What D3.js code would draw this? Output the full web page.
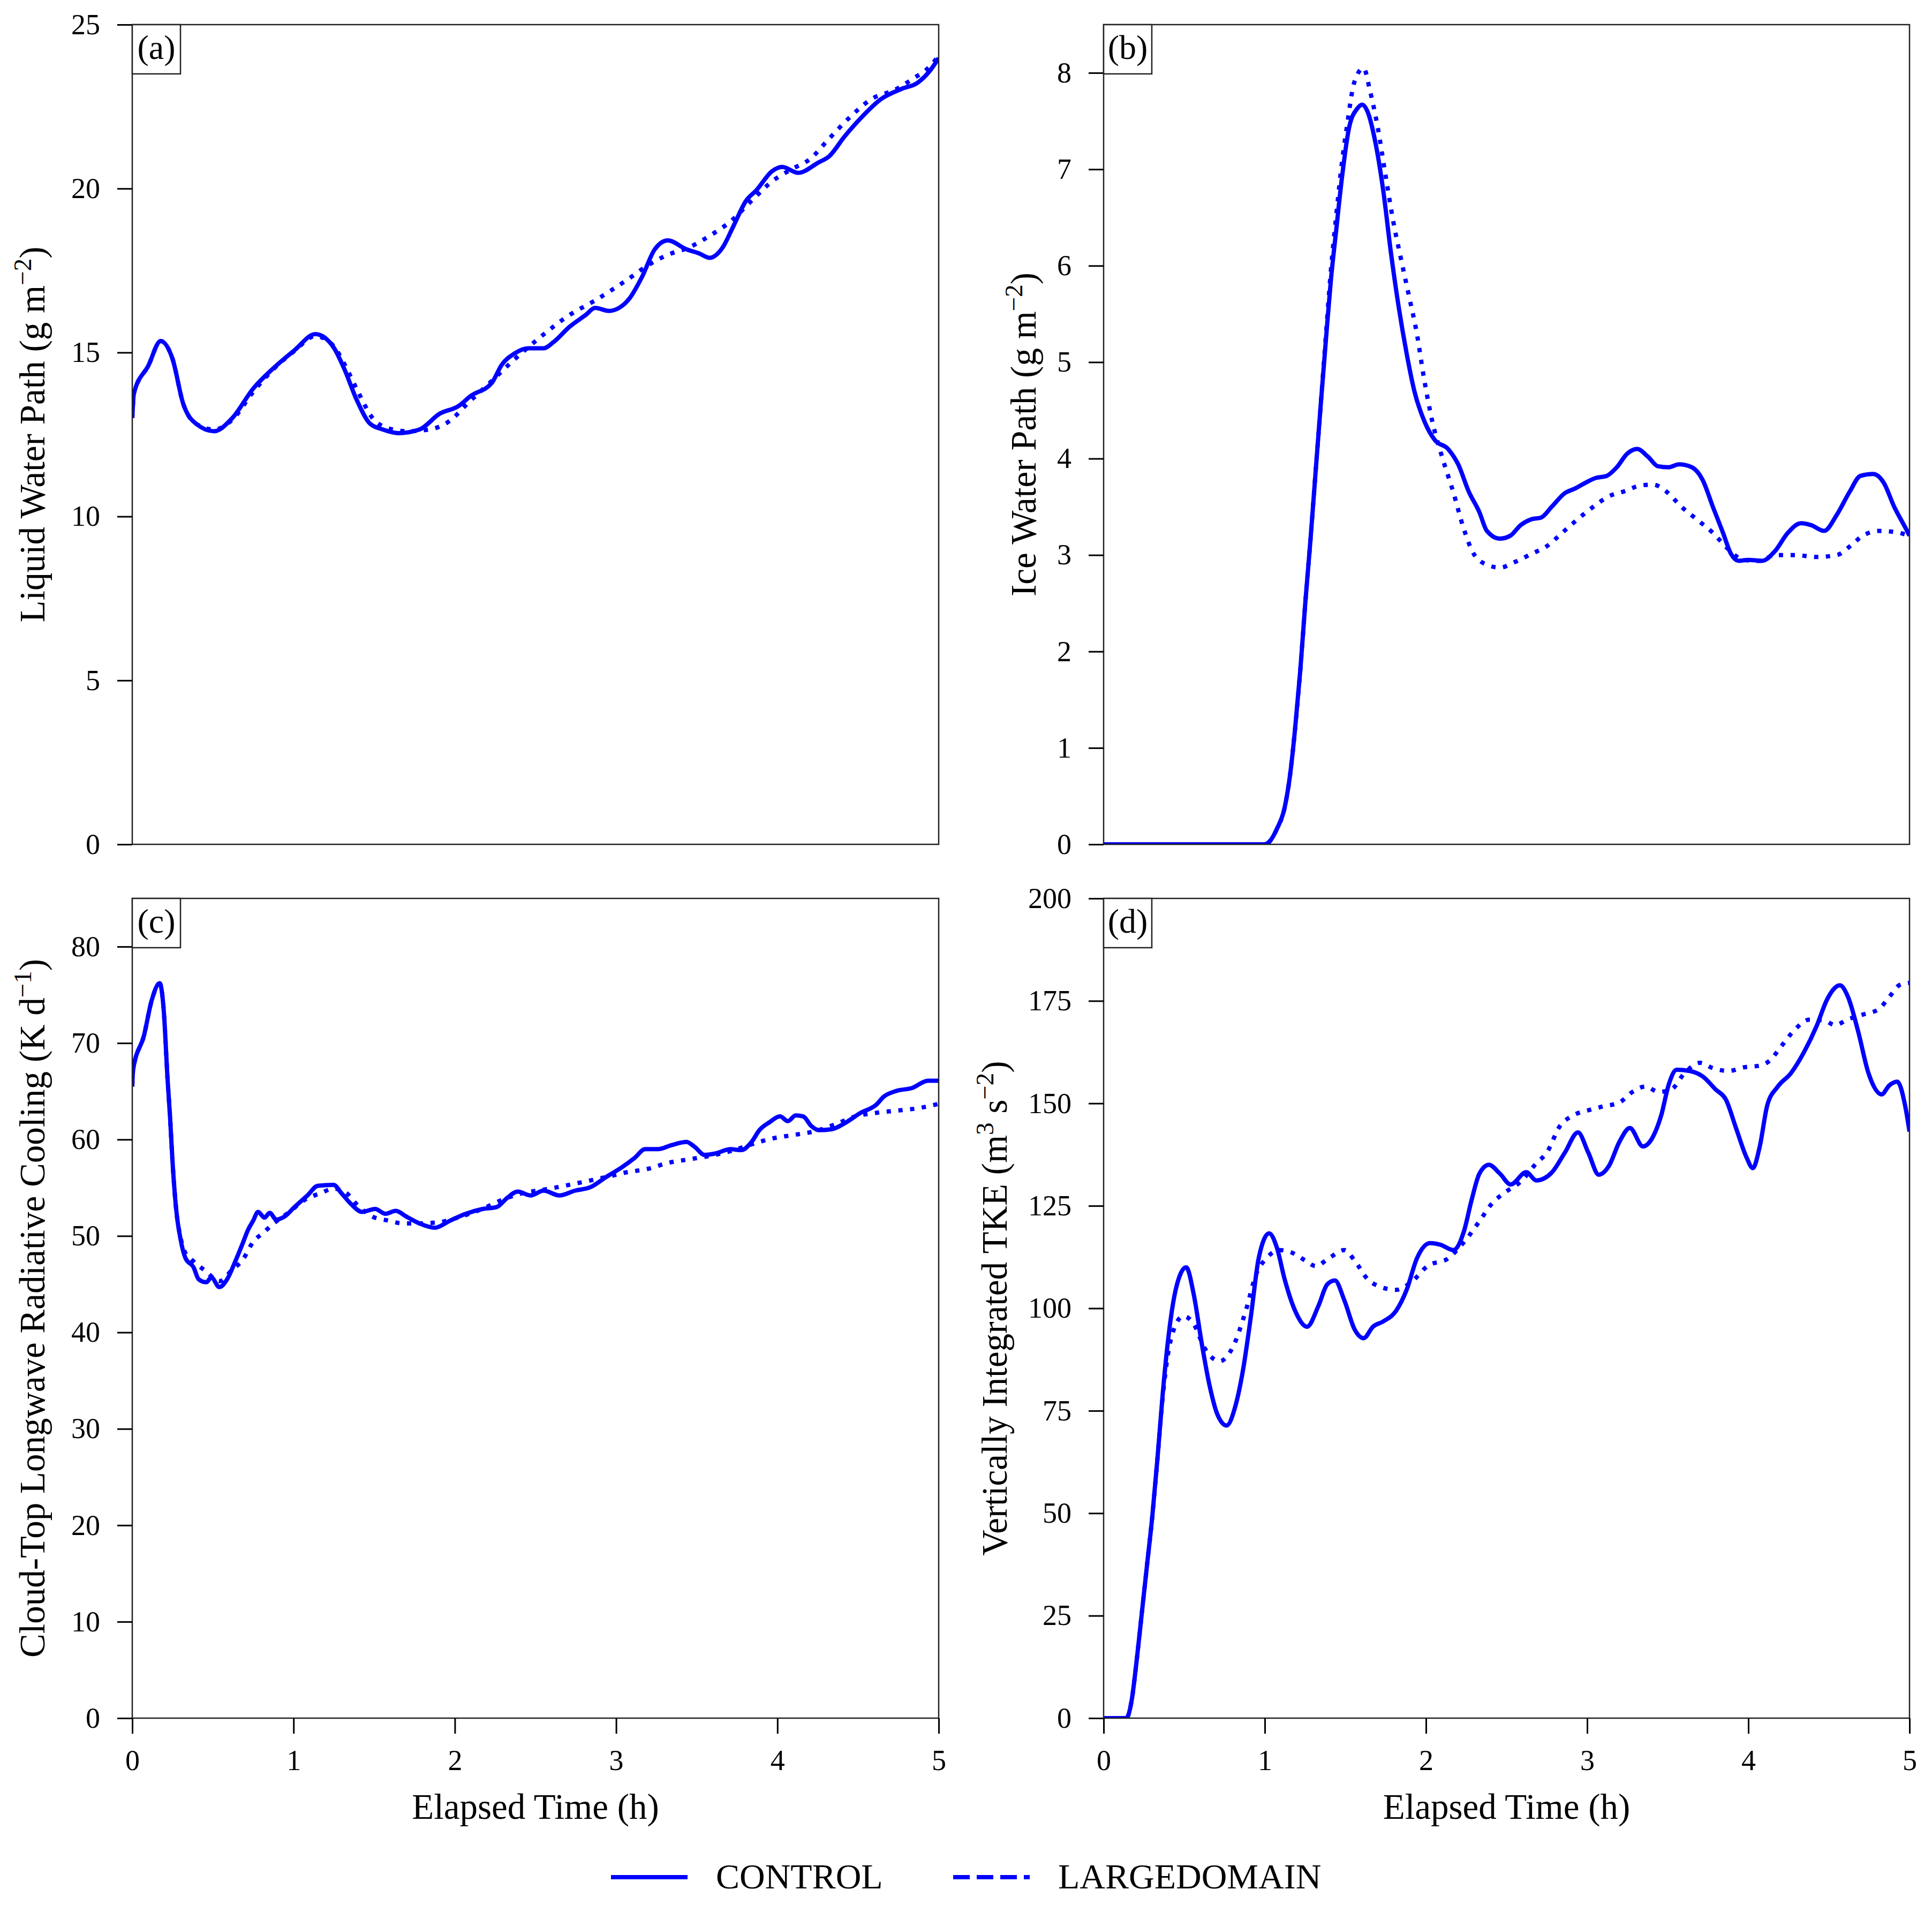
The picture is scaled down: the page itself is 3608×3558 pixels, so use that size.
<!DOCTYPE html>
<html>
<head>
<meta charset="utf-8">
<script src="https://d3js.org/d3.v7.min.js"></script>
<style>
  body { margin: 0; background: #fff; }
  text { font-family: "Liberation Serif", "DejaVu Serif", serif; fill: #000; }
</style>
</head>
<body>
<svg id="chart" width="3608" height="3558"></svg>
<script>
/*************************************/
/*   Data        */
/*************************************/
const seriesNames = ["CONTROL", "LARGEDOMAIN"];
const xTicks = [0, 1, 2, 3, 4, 5];

// (a) Liquid water path
const lwpCtrlT = [0, 0.01, 0.1, 0.176, 0.25, 0.315, 0.395, 0.508, 0.62, 0.75, 0.877, 1.006, 1.135, 1.248, 1.312, 1.393, 1.474, 1.554, 1.65, 1.78, 1.908, 2.02, 2.1, 2.23, 2.29, 2.37, 2.455, 2.55, 2.615, 2.71, 2.81, 2.87, 2.955, 3.018, 3.08, 3.16, 3.24, 3.32, 3.435, 3.516, 3.58, 3.66, 3.725, 3.806, 3.87, 3.967, 4.03, 4.128, 4.256, 4.32, 4.418, 4.515, 4.643, 4.77, 4.867, 4.95, 5.0];
const lwpCtrl = [13.0, 13.75, 14.6, 15.35, 14.8, 13.45, 12.83, 12.6, 13.0, 13.9, 14.53, 15.07, 15.56, 15.16, 14.53, 13.54, 12.83, 12.65, 12.54, 12.65, 13.14, 13.36, 13.68, 14.08, 14.62, 14.97, 15.13, 15.13, 15.33, 15.78, 16.14, 16.36, 16.27, 16.36, 16.63, 17.3, 18.15, 18.42, 18.15, 18.02, 17.89, 18.2, 18.83, 19.63, 19.95, 20.53, 20.66, 20.48, 20.8, 20.98, 21.6, 22.14, 22.73, 23.04, 23.22, 23.62, 23.98];
const lwpLargeT = [0, 0.01, 0.1, 0.176, 0.25, 0.315, 0.395, 0.508, 0.62, 0.75, 0.877, 1.006, 1.135, 1.248, 1.32, 1.4, 1.49, 1.58, 1.7, 1.84, 1.97, 2.08, 2.2, 2.35, 2.52, 2.71, 2.87, 3.066, 3.2, 3.32, 3.45, 3.58, 3.71, 3.84, 3.967, 4.1, 4.2, 4.32, 4.45, 4.58, 4.74, 4.84, 4.94, 5.0];
const lwpLarge = [13.0, 13.75, 14.6, 15.35, 14.8, 13.45, 12.83, 12.65, 12.95, 13.8, 14.5, 15.05, 15.5, 15.2, 14.6, 13.8, 13.0, 12.7, 12.6, 12.65, 12.92, 13.45, 14.0, 14.7, 15.43, 16.14, 16.59, 17.21, 17.67, 17.98, 18.2, 18.56, 19.0, 19.63, 20.22, 20.62, 20.89, 21.52, 22.18, 22.72, 23.04, 23.35, 23.7, 24.05];

// (b) Ice water path
const iwpCtrlT = [0, 0.5, 0.995, 1.03, 1.075, 1.123, 1.156, 1.188, 1.22, 1.252, 1.284, 1.316, 1.349, 1.38, 1.41, 1.445, 1.477, 1.524, 1.574, 1.605, 1.637, 1.686, 1.734, 1.783, 1.83, 1.88, 1.928, 1.992, 2.056, 2.137, 2.2, 2.265, 2.33, 2.378, 2.458, 2.523, 2.587, 2.652, 2.716, 2.78, 2.86, 2.925, 2.99, 3.055, 3.12, 3.184, 3.248, 3.31, 3.377, 3.44, 3.505, 3.57, 3.65, 3.716, 3.78, 3.843, 3.893, 3.94, 4.0, 4.085, 4.165, 4.245, 4.327, 4.39, 4.47, 4.55, 4.63, 4.695, 4.775, 4.84, 4.905, 4.985, 5.0];
const iwpCtrl = [0, 0, 0, 0.03, 0.16, 0.38, 0.71, 1.2, 1.8, 2.52, 3.17, 3.88, 4.6, 5.25, 5.85, 6.4, 6.89, 7.44, 7.63, 7.67, 7.6, 7.28, 6.79, 6.13, 5.58, 5.09, 4.7, 4.38, 4.19, 4.1, 3.94, 3.66, 3.45, 3.25, 3.17, 3.2, 3.31, 3.37, 3.39, 3.5, 3.64, 3.69, 3.75, 3.8, 3.82, 3.91, 4.05, 4.1, 4.02, 3.92, 3.91, 3.94, 3.91, 3.78, 3.5, 3.23, 3.01, 2.94, 2.95, 2.94, 3.04, 3.23, 3.33, 3.31, 3.25, 3.42, 3.66, 3.82, 3.84, 3.75, 3.5, 3.25, 3.2];
const iwpLargeT = [0, 0.5, 0.995, 1.03, 1.075, 1.123, 1.156, 1.188, 1.22, 1.252, 1.284, 1.316, 1.349, 1.38, 1.41, 1.445, 1.477, 1.51, 1.555, 1.613, 1.652, 1.7, 1.748, 1.797, 1.845, 1.894, 1.942, 1.99, 2.04, 2.105, 2.168, 2.233, 2.297, 2.378, 2.458, 2.555, 2.652, 2.748, 2.845, 2.94, 3.038, 3.135, 3.23, 3.329, 3.408, 3.49, 3.585, 3.68, 3.78, 3.876, 3.97, 4.07, 4.165, 4.29, 4.42, 4.55, 4.63, 4.71, 4.81, 4.905, 5.0];
const iwpLarge = [0, 0, 0, 0.03, 0.16, 0.38, 0.71, 1.2, 1.8, 2.52, 3.17, 3.88, 4.6, 5.3, 5.95, 6.55, 7.05, 7.45, 7.9, 8.05, 7.82, 7.44, 6.95, 6.46, 6.07, 5.69, 5.31, 4.81, 4.38, 3.99, 3.66, 3.28, 3.01, 2.9, 2.87, 2.93, 3.01, 3.09, 3.23, 3.37, 3.5, 3.61, 3.66, 3.72, 3.73, 3.66, 3.5, 3.37, 3.23, 3.06, 2.95, 2.94, 3.0, 3.0, 2.98, 3.0, 3.09, 3.2, 3.25, 3.24, 3.2];

// (c) Cloud-top longwave radiative cooling
const lwcCtrlT = [0, 0.005, 0.073, 0.12, 0.17, 0.196, 0.218, 0.234, 0.25, 0.272, 0.3, 0.33, 0.38, 0.412, 0.459, 0.49, 0.54, 0.588, 0.636, 0.684, 0.717, 0.75, 0.78, 0.82, 0.852, 0.893, 0.943, 1.006, 1.086, 1.15, 1.248, 1.296, 1.36, 1.424, 1.506, 1.57, 1.634, 1.7, 1.78, 1.876, 1.972, 2.068, 2.165, 2.26, 2.326, 2.39, 2.47, 2.55, 2.648, 2.745, 2.84, 2.937, 3.034, 3.114, 3.18, 3.26, 3.34, 3.436, 3.485, 3.549, 3.614, 3.71, 3.775, 3.84, 3.888, 3.952, 4.016, 4.065, 4.113, 4.16, 4.21, 4.257, 4.338, 4.418, 4.515, 4.612, 4.66, 4.74, 4.836, 4.933, 5.0];
const lwcCtrl = [65.5, 67.2, 70.8, 74.4, 76.2, 73.2, 66.5, 62.4, 57.6, 52.8, 49.6, 47.7, 46.75, 45.5, 45.2, 45.7, 44.7, 45.5, 47.25, 49.2, 50.6, 51.6, 52.5, 51.9, 52.4, 51.7, 52.0, 53.0, 54.2, 55.2, 55.3, 54.45, 53.25, 52.5, 52.8, 52.3, 52.6, 52.0, 51.3, 50.85, 51.6, 52.3, 52.77, 53.0, 53.97, 54.6, 54.2, 54.7, 54.2, 54.7, 55.05, 56.1, 57.1, 58.08, 59.0, 59.0, 59.4, 59.75, 59.27, 58.4, 58.55, 59.0, 58.9, 59.75, 60.97, 61.8, 62.4, 61.9, 62.5, 62.4, 61.4, 60.97, 61.07, 61.7, 62.76, 63.6, 64.45, 65.05, 65.35, 66.1, 66.1];
const lwcLargeT = [0, 0.005, 0.073, 0.12, 0.17, 0.196, 0.218, 0.234, 0.25, 0.272, 0.3, 0.33, 0.365, 0.459, 0.54, 0.62, 0.684, 0.75, 0.814, 0.877, 0.975, 1.07, 1.17, 1.248, 1.328, 1.393, 1.49, 1.586, 1.68, 1.78, 1.908, 2.036, 2.165, 2.294, 2.423, 2.55, 2.68, 2.81, 2.937, 3.066, 3.2, 3.32, 3.45, 3.58, 3.71, 3.84, 3.967, 4.1, 4.225, 4.355, 4.483, 4.612, 4.74, 4.87, 5.0];
const lwcLarge = [65.5, 67.2, 70.8, 74.4, 76.2, 73.2, 66.5, 62.4, 57.6, 52.8, 49.8, 48.2, 47.6, 46.3, 45.3, 46.5, 47.5, 49.4, 50.35, 51.3, 52.5, 53.75, 54.45, 54.9, 54.45, 53.25, 52.0, 51.6, 51.3, 51.3, 51.44, 52.0, 52.77, 53.75, 54.45, 54.8, 55.2, 55.65, 56.1, 56.6, 56.97, 57.57, 57.94, 58.3, 58.8, 59.5, 60.1, 60.47, 60.83, 61.55, 62.4, 62.76, 63.0, 63.24, 63.7];

// (d) Vertically integrated TKE
const tkeCtrlT = [0, 0.141, 0.173, 0.206, 0.238, 0.27, 0.302, 0.334, 0.366, 0.398, 0.447, 0.512, 0.56, 0.608, 0.656, 0.704, 0.763, 0.818, 0.866, 0.914, 0.962, 1.027, 1.075, 1.123, 1.188, 1.262, 1.333, 1.387, 1.435, 1.494, 1.558, 1.613, 1.671, 1.735, 1.815, 1.88, 1.944, 2.025, 2.09, 2.17, 2.235, 2.283, 2.331, 2.39, 2.46, 2.525, 2.622, 2.685, 2.78, 2.862, 2.943, 3.007, 3.072, 3.136, 3.2, 3.265, 3.346, 3.409, 3.459, 3.507, 3.555, 3.635, 3.716, 3.797, 3.861, 3.925, 3.99, 4.028, 4.07, 4.118, 4.183, 4.263, 4.344, 4.424, 4.488, 4.568, 4.618, 4.681, 4.746, 4.827, 4.875, 4.924, 4.972, 5.0];
const tkeCtrl = [0, 0, 4.1, 14.4, 26, 37.6, 49.2, 63.3, 78.8, 91.6, 104.5, 110.0, 103.2, 91.6, 81.4, 74.3, 71.4, 76.2, 85.2, 98.1, 112.2, 118.3, 114.8, 107.1, 99.4, 95.5, 100.6, 105.8, 106.8, 101.9, 94.8, 92.7, 95.5, 96.8, 99.4, 104.5, 112.2, 115.9, 115.5, 114.2, 118.7, 126.4, 132.8, 135.0, 132.8, 130.2, 133.2, 131.2, 133.1, 138.0, 142.9, 138.0, 132.6, 134.8, 140.6, 144.0, 139.5, 141.9, 147.0, 154.7, 158.2, 157.9, 156.6, 153.4, 150.9, 143.8, 136.7, 134.2, 139.3, 149.6, 154.1, 157.3, 162.4, 168.9, 175.3, 178.8, 176.0, 167.6, 157.3, 152.2, 154.4, 155.3, 149.6, 143.1];
const tkeLargeT = [0, 0.141, 0.173, 0.206, 0.238, 0.27, 0.302, 0.334, 0.366, 0.398, 0.43, 0.495, 0.56, 0.625, 0.72, 0.8, 0.882, 0.947, 1.01, 1.09, 1.172, 1.253, 1.316, 1.397, 1.494, 1.558, 1.638, 1.72, 1.815, 1.912, 2.009, 2.138, 2.235, 2.331, 2.412, 2.492, 2.588, 2.685, 2.75, 2.83, 2.91, 3.007, 3.103, 3.2, 3.281, 3.362, 3.443, 3.522, 3.603, 3.7, 3.78, 3.877, 3.974, 4.07, 4.135, 4.2, 4.28, 4.376, 4.472, 4.537, 4.618, 4.714, 4.81, 4.875, 4.94, 5.0];
const tkeLarge = [0, 0, 4.1, 14.4, 26, 37.6, 49.2, 63.3, 78.0, 88.5, 94.2, 98.1, 96.1, 90.4, 87.1, 90.4, 99.4, 108.4, 112.2, 114.2, 113.5, 111.6, 110.3, 112.2, 114.2, 111.6, 107.1, 105.2, 104.5, 106.5, 110.3, 112.2, 116.1, 121.2, 125.7, 128.3, 130.9, 135.4, 138.0, 144.4, 147.0, 148.3, 149.3, 150.2, 152.8, 154.1, 152.8, 153.4, 157.3, 159.9, 158.6, 157.9, 158.8, 159.2, 160.5, 163.7, 167.6, 170.4, 170.2, 169.1, 170.5, 171.7, 173.0, 176.0, 178.9, 179.4];

// y axis tick values per panel
const yTicksA = [0, 5, 10, 15, 20, 25];
const yTicksB = [0, 1, 2, 3, 4, 5, 6, 7, 8];
const yTicksC = [0, 10, 20, 30, 40, 50, 60, 70, 80];
const yTicksD = [0, 25, 50, 75, 100, 125, 150, 175, 200];

/*************************************/
/*   Layout                          */
/*************************************/
const BLUE = "#0000ff";
const tickFont = 54;
const labelFont = 67;

const panels = [
  { tag: "(a)", box: [247, 1753, 46, 1577], ymax: 25, yTicks: yTicksA, xAxis: false, labOff: 164,
    ylab: [["Liquid Water Path (g m"], ["\u22122", true], [")"]],
    series: [[lwpCtrlT, lwpCtrl], [lwpLargeT, lwpLarge]] },
  { tag: "(b)", box: [2061, 3566, 46, 1577], ymax: 8.5, yTicks: yTicksB, xAxis: false, labOff: 127,
    ylab: [["Ice Water Path (g m"], ["\u22122", true], [")"]],
    series: [[iwpCtrlT, iwpCtrl], [iwpLargeT, iwpLarge]] },
  { tag: "(c)", box: [247, 1753, 1678, 3209], ymax: 85, yTicks: yTicksC, xAxis: true, labOff: 164,
    ylab: [["Cloud-Top Longwave Radiative Cooling (K d"], ["\u22121", true], [")"]],
    series: [[lwcCtrlT, lwcCtrl], [lwcLargeT, lwcLarge]] },
  { tag: "(d)", box: [2061, 3566, 1678, 3209], ymax: 200, yTicks: yTicksD, xAxis: true, labOff: 181,
    ylab: [["Vertically Integrated TKE (m"], ["3", true], [" s"], ["\u22122", true], [")"]],
    series: [[tkeCtrlT, tkeCtrl], [tkeLargeT, tkeLarge]] }
];

const styles = [
  { dash: null },
  { dash: "8,14" }
];

const svg = d3.select("#chart");
svg.append("rect").attr("width", 3608).attr("height", 3558).attr("fill", "#fff");

// text with superscript pieces
const richText = (sel, parts, size) => {
  const supSize = Math.round(size * 0.7);
  const shift = Math.round(size * 0.38);
  parts.forEach(([txt, sup], i) => {
    const prevSup = i > 0 && parts[i - 1][1];
    sel.append("tspan")
      .attr("font-size", sup ? supSize : size)
      .attr("dy", sup ? -shift : (prevSup ? shift : 0))
      .text(txt);
  });
};

/*************************************/
/*   Draw the panels                 */
/*************************************/
panels.forEach((p, i) => {
  const [x0, x1, y0, y1] = p.box;
  const x = d3.scaleLinear().domain([0, 5]).range([x0, x1]);
  const y = d3.scaleLinear().domain([0, p.ymax]).range([y1, y0]);

  const clipId = `clip${i}`;
  svg.append("clipPath").attr("id", clipId)
    .append("rect").attr("x", x0).attr("y", y0).attr("width", x1 - x0).attr("height", y1 - y0);

  // lines
  const line = d3.line()
    .x((d) => x(d[0]))
    .y((d) => y(d[1]))
    .curve(d3.curveMonotoneX);

  p.series.forEach(([ts, vs], k) => {
    svg.append("path")
      .datum(ts.map((t, j) => [t, vs[j]]))
      .attr("clip-path", `url(#${clipId})`)
      .attr("d", line)
      .attr("fill", "none")
      .attr("stroke", BLUE)
      .attr("stroke-width", 8)
      .attr("stroke-linejoin", "round")
      .attr("stroke-dasharray", styles[k].dash);
  });

  // frame
  svg.append("rect")
    .attr("x", x0).attr("y", y0)
    .attr("width", x1 - x0).attr("height", y1 - y0)
    .attr("fill", "none").attr("stroke", "#222").attr("stroke-width", 2.5);

  // y axis
  const yAxis = svg.append("g")
    .attr("transform", `translate(${x0},0)`)
    .call(d3.axisLeft(y).tickValues(p.yTicks).tickSize(28).tickPadding(32).tickFormat(d3.format("d")));
  yAxis.select(".domain").remove();
  yAxis.selectAll("line").attr("stroke", "#000").attr("stroke-width", 3);
  yAxis.selectAll("text").attr("font-size", tickFont).attr("font-family", "Liberation Serif");

  // x axis only on the bottom row
  if (p.xAxis) {
    const xAxis = svg.append("g")
      .attr("transform", `translate(0,${y1})`)
      .call(d3.axisBottom(x).tickValues(xTicks).tickSize(29).tickPadding(30).tickFormat(d3.format("d")));
    xAxis.select(".domain").remove();
    xAxis.selectAll("line").attr("stroke", "#000").attr("stroke-width", 3);
    xAxis.selectAll("text").attr("font-size", tickFont).attr("font-family", "Liberation Serif");

    svg.append("text")
      .attr("x", (x0 + x1) / 2).attr("y", 3397)
      .attr("text-anchor", "middle")
      .attr("font-size", labelFont)
      .text("Elapsed Time (h)");
  }

  // y label
  const yl = svg.append("text")
    .attr("transform", `translate(${x0 - p.labOff},${(y0 + y1) / 2}) rotate(-90)`)
    .attr("text-anchor", "middle")
    .attr("font-size", labelFont);
  richText(yl, p.ylab, labelFont);

  // panel tag box
  svg.append("rect")
    .attr("x", x0).attr("y", y0).attr("width", 90).attr("height", 92)
    .attr("fill", "#fff").attr("stroke", "#222").attr("stroke-width", 2.5);
  svg.append("text")
    .attr("x", x0 + 45).attr("y", y0 + 64)
    .attr("text-anchor", "middle")
    .attr("font-size", 64)
    .text(p.tag);
});

/*************************************/
/*   Legend                          */
/*************************************/
const legendItems = [
  { name: seriesNames[0], x: 1141, dash: null },
  { name: seriesNames[1], x: 1780, dash: "31,13" }
];
const legend = svg.append("g").attr("class", "legend");
legendItems.forEach((d) => {
  legend.append("line")
    .attr("x1", d.x).attr("x2", d.x + 143)
    .attr("y1", 3506).attr("y2", 3506)
    .attr("stroke", BLUE).attr("stroke-width", 8)
    .attr("stroke-dasharray", d.dash);
  legend.append("text")
    .attr("x", d.x + 196).attr("y", 3527)
    .attr("font-size", 66)
    .text(d.name);
});
</script>
</body>
</html>
